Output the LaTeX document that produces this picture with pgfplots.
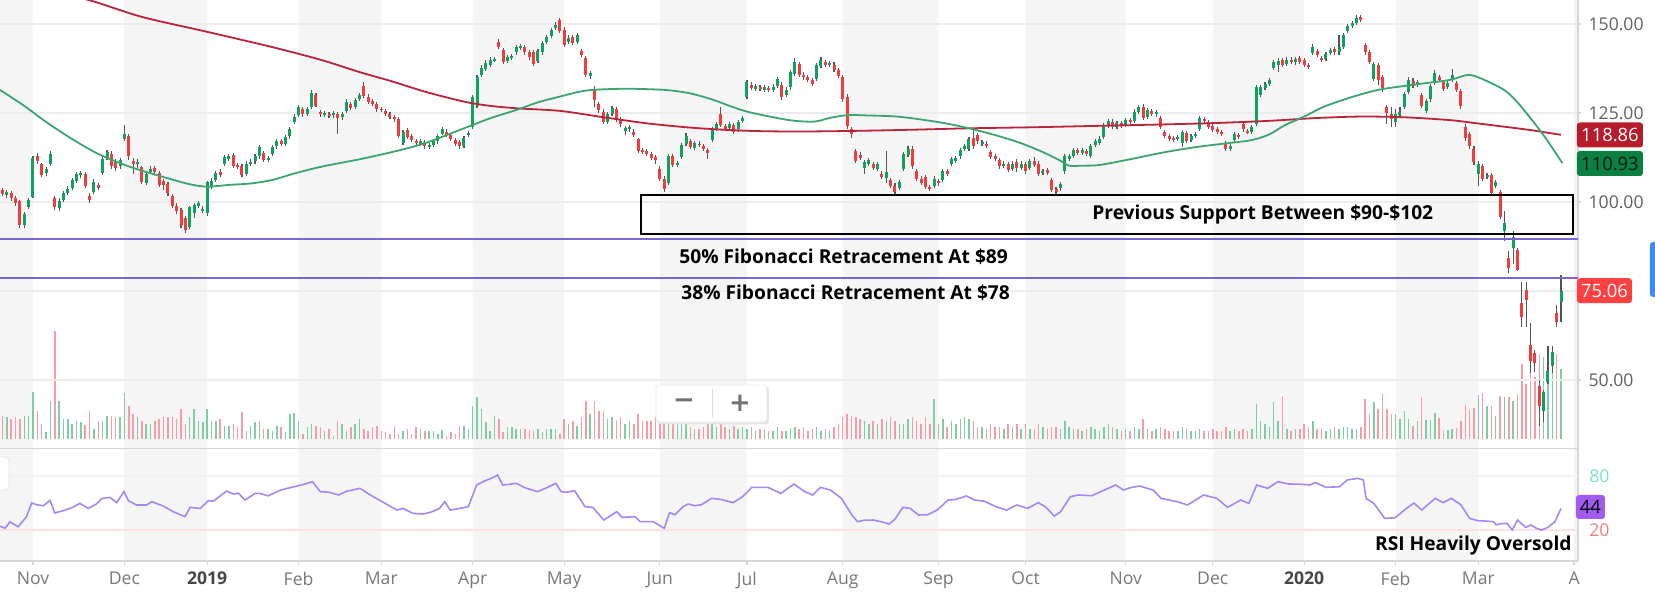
\documentclass[border=0pt]{standalone}
\usepackage{pgfplots}
\pgfplotsset{compat=1.18}
\usepackage{pgfplotstable}
\usepackage{fontspec}
\setmainfont{Open Sans}
\newfontfamily\dejavu{DejaVu Sans}
\definecolor{cgreen}{RGB}{16,160,96}
\definecolor{cred}{RGB}{240,60,60}
\definecolor{cwick}{RGB}{85,85,85}
\definecolor{vgreen}{RGB}{128,204,164}
\definecolor{vred}{RGB}{245,156,166}
\definecolor{magreen}{RGB}{60,165,110}
\definecolor{mared}{RGB}{185,35,60}
\definecolor{fib}{RGB}{122,102,218}
\definecolor{band}{RGB}{245,245,245}
\definecolor{gridc}{RGB}{236,236,236}
\definecolor{axisc}{RGB}{214,214,214}
\definecolor{rsiline}{RGB}{165,135,245}
\definecolor{tickc}{RGB}{95,95,95}
\definecolor{monthc}{RGB}{120,120,120}
\definecolor{yeardark}{RGB}{70,70,70}
\definecolor{lblA}{RGB}{183,28,44}
\definecolor{lblB}{RGB}{11,128,67}
\definecolor{lblC}{RGB}{255,64,64}
\definecolor{lblD}{RGB}{160,92,240}
\definecolor{rsiG}{RGB}{125,225,190}
\definecolor{rsiR}{RGB}{242,125,125}
\definecolor{rsigridG}{RGB}{238,244,241}
\definecolor{rsigridR}{RGB}{252,226,226}
\definecolor{bluebar}{RGB}{60,140,240}
\newcommand{\tickfont}{\fontsize{8.8bp}{10bp}\selectfont}
\newcommand{\annfont}{\fontsize{9.6bp}{11bp}\selectfont\bfseries}
\pgfplotsset{chartbase/.style={scale only axis, width=789bp, xmin=-7.58, xmax=354.9}}

\pgfplotstableread{
i o h l c v
-8 105.5 106.2 103.0 103.5 32
-7 103.5 104.0 101.6 102.2 23
-6 102.0 103.5 101.2 102.8 22
-5 102.5 103.0 100.4 101.0 20
-4 101.2 101.8 98.8 99.6 22
-3 100.2 100.6 92.8 93.6 20
-2 93.4 97.3 92.6 96.6 23
-1 98.6 101.2 98.0 100.5 23
0 101.4 113.0 101.0 112.4 47
1 113.0 113.8 110.8 111.6 28
2 110.6 111.0 107.0 107.6 15
3 108.2 109.8 107.4 109.2 7
4 110.6 114.2 110.2 113.6 38
5 101.2 101.8 97.8 98.6 108
6 98.4 101.0 97.6 100.4 38
7 100.6 103.2 100.0 102.6 20
8 102.4 104.4 102.0 103.6 20
9 104.0 106.8 103.4 106.2 15
10 106.0 108.4 105.4 107.8 18
11 107.6 108.8 106.8 108.2 17
12 108.0 108.4 104.0 104.4 14
13 101.8 102.4 99.6 100.6 28
14 102.8 106.4 102.2 105.6 10
15 104.9 105.4 103.4 103.9 18
16 108.2 112.8 107.6 112.2 18
17 112.4 114.6 111.8 114.0 23
18 113.6 114.2 109.4 110.0 23
19 111.6 112.2 108.8 109.6 22
20 110.0 112.4 109.4 111.8 22
21 117.8 121.6 117.2 119.2 46
22 118.6 119.0 111.8 112.8 33
23 111.6 112.4 108.0 110.6 25
24 110.8 112.0 109.6 111.2 22
25 109.8 110.2 105.0 105.6 18
26 105.4 108.6 104.8 108.0 15
27 108.4 110.2 107.8 109.4 15
28 109.6 110.0 107.8 108.4 18
29 108.2 108.6 104.2 104.8 20
30 106.0 106.6 103.4 104.8 22
31 105.0 105.6 101.8 102.6 22
32 101.6 102.2 98.2 98.8 22
33 99.0 99.8 96.6 97.4 20
34 97.8 98.4 92.6 93.4 30
35 95.6 96.0 91.2 92.2 15
36 93.0 99.0 92.4 98.6 22
37 96.8 99.6 95.6 99.2 30
38 99.0 100.4 98.2 99.6 18
39 97.6 98.8 96.8 98.0 17
40 96.8 106.0 96.2 105.6 30
41 104.4 106.8 103.6 106.0 18
42 106.2 108.8 105.6 108.2 18
43 108.4 109.2 107.0 107.6 20
44 110.8 113.2 110.2 112.6 13
45 112.2 113.6 111.6 112.8 13
46 113.2 113.8 109.6 110.2 15
47 110.4 111.0 109.2 109.8 12
48 110.2 110.6 107.0 107.6 27
49 108.0 111.4 107.4 110.8 8
50 110.6 112.0 110.0 111.2 13
51 111.4 113.4 110.8 112.8 17
52 112.8 116.0 112.2 115.4 18
53 113.8 114.4 111.2 111.8 10
54 111.8 113.0 111.2 112.4 10
55 113.6 116.0 113.0 115.4 8
56 115.6 117.8 115.0 117.2 13
57 117.0 117.6 115.6 116.2 12
58 116.4 118.8 115.8 118.2 7
59 118.4 121.0 117.8 120.4 25
60 122.6 124.8 122.0 124.0 26
61 124.4 127.2 123.8 126.6 18
62 126.2 126.8 124.0 124.6 5
63 124.8 126.8 124.2 126.2 12
64 126.8 131.4 126.2 130.6 15
65 130.0 130.6 126.6 127.0 13
66 125.2 125.8 124.0 124.6 12
67 124.4 125.6 123.8 125.0 8
68 124.6 125.2 123.6 124.2 10
69 124.4 125.6 123.6 125.0 3
70 124.6 125.2 119.2 123.6 18
71 123.8 125.4 123.0 124.8 15
72 125.6 128.8 125.0 128.2 8
73 127.4 128.0 125.8 126.4 12
74 126.6 129.2 126.0 128.6 15
75 129.0 130.6 128.4 130.0 20
76 132.6 133.6 129.2 129.8 10
77 129.6 130.2 127.6 128.2 8
78 128.4 129.0 127.0 127.6 12
79 127.6 128.2 125.4 126.0 13
80 126.2 126.8 125.2 125.8 8
81 125.6 126.2 124.2 124.8 7
82 124.6 125.2 123.2 124.0 5
83 123.8 124.4 122.6 123.2 13
84 123.4 123.8 118.0 118.6 5
85 116.6 120.2 116.0 119.6 8
86 120.2 120.8 117.6 118.2 10
87 118.4 119.0 116.8 117.4 5
88 117.2 117.8 116.0 116.6 12
89 116.4 117.6 115.6 117.0 10
90 116.8 117.4 115.0 115.6 8
91 115.4 116.6 114.8 116.0 8
92 116.0 117.6 115.4 117.0 8
93 117.0 119.2 116.4 118.6 5
94 119.2 121.2 118.8 120.6 9
95 119.8 120.4 118.2 118.8 3
96 118.8 119.4 117.0 117.6 7
97 117.4 118.0 115.6 116.2 5
98 116.8 117.4 115.0 115.6 13
99 115.6 118.6 115.2 118.0 13
100 118.8 120.0 118.2 119.4 10
101 121.2 130.0 120.6 129.4 33
102 127.0 135.6 126.4 135.0 42
103 135.6 138.4 135.0 137.6 30
104 137.4 139.8 136.8 139.0 17
105 138.6 140.6 137.8 139.8 8
106 139.8 140.8 139.2 140.2 23
107 145.0 145.8 143.0 143.6 20
108 142.6 143.2 138.8 139.4 7
109 139.6 141.2 139.0 140.6 12
110 140.6 141.6 140.0 141.0 12
111 142.0 144.0 141.4 143.4 10
112 143.2 144.4 142.6 143.8 10
113 143.6 144.2 141.4 142.0 10
114 142.2 142.8 140.0 140.6 9
115 142.0 142.6 138.2 138.8 8
116 139.6 143.0 139.0 142.4 10
117 142.0 145.2 141.4 144.6 7
118 145.0 147.0 144.4 146.4 10
119 146.6 149.0 146.0 148.4 10
120 148.8 150.6 148.2 149.8 10
121 151.2 151.8 147.4 148.0 5
122 148.4 149.2 143.4 144.0 20
123 145.0 146.8 144.4 146.2 15
124 146.4 147.0 144.0 144.6 18
125 145.0 147.6 144.4 147.0 13
126 142.4 143.0 140.8 141.4 22
127 140.4 141.0 135.0 135.6 38
128 135.4 136.8 134.6 136.2 25
129 131.8 132.6 126.8 128.6 38
130 127.6 128.2 125.0 125.8 28
131 125.4 126.0 121.8 122.4 28
132 122.6 125.2 122.0 124.6 20
133 124.8 127.0 124.2 126.4 22
134 126.2 126.8 122.4 123.0 18
135 123.4 124.0 121.2 121.8 22
136 120.0 121.4 118.8 120.8 15
137 120.4 121.6 119.8 121.0 18
138 119.8 120.4 118.2 118.8 15
139 117.6 118.0 113.8 114.4 25
140 114.6 115.2 113.4 114.0 18
141 114.4 115.0 113.0 113.6 18
142 113.4 114.0 111.8 112.4 18
143 112.6 113.2 110.8 111.8 22
144 109.4 110.0 106.0 106.6 27
145 106.6 107.2 102.8 103.6 25
146 105.4 113.4 104.8 112.8 30
147 112.8 113.4 109.8 110.4 18
148 110.4 111.6 109.8 111.0 15
149 112.6 116.6 112.0 116.0 20
150 116.2 119.4 115.6 118.4 18
151 117.0 117.6 114.8 115.4 12
152 115.2 117.2 114.6 116.6 10
153 116.4 117.0 115.4 116.0 10
154 115.8 116.4 114.2 114.8 12
155 114.6 115.2 112.0 113.8 15
156 117.4 121.0 116.8 120.4 15
157 120.6 122.6 120.0 122.0 12
158 124.6 126.6 121.0 121.6 18
159 121.4 122.0 120.0 120.6 12
160 120.8 122.4 120.2 121.8 10
161 121.6 122.2 119.2 119.8 13
162 120.4 123.0 119.8 122.4 10
163 122.8 124.2 122.2 123.6 12
164 129.6 134.4 129.0 133.6 10
165 133.0 133.8 131.4 132.0 12
166 131.8 133.2 131.2 132.6 8
167 132.4 133.0 131.2 131.8 10
168 131.6 132.8 131.0 132.2 10
169 132.0 132.6 131.0 131.6 8
170 131.6 133.2 131.0 132.4 8
171 132.6 135.2 132.0 134.6 12
172 133.0 133.6 128.6 129.6 8
173 130.0 132.2 129.4 131.6 8
174 132.2 137.0 131.6 136.4 10
175 136.0 140.4 135.4 139.2 12
176 138.8 139.4 135.2 135.8 10
177 135.8 136.4 134.4 135.0 12
178 135.2 135.8 133.6 134.2 8
179 134.2 134.8 132.6 133.2 10
180 134.6 139.0 134.0 138.4 12
181 138.2 140.8 137.6 139.8 8
182 139.4 140.0 138.0 138.6 10
183 138.4 139.6 137.8 139.0 8
184 138.6 139.2 136.4 137.0 12
185 137.0 137.6 134.8 135.4 15
186 135.2 135.8 128.2 128.8 22
187 129.6 130.2 120.6 121.4 25
188 120.6 121.2 118.0 119.0 23
189 114.2 114.8 111.0 111.6 22
190 113.2 114.0 111.8 112.4 20
191 109.6 111.8 108.0 111.2 18
192 110.8 112.4 110.2 111.8 15
193 110.6 111.2 109.0 109.6 18
194 109.4 111.2 108.8 110.6 15
195 108.0 108.6 106.4 107.0 20
196 106.8 114.4 105.4 108.4 18
197 106.2 106.8 104.0 104.6 22
198 104.6 105.2 102.2 102.8 18
199 104.0 106.2 103.4 105.6 15
200 109.2 114.0 108.6 113.4 15
201 113.2 115.6 112.6 115.0 20
202 115.0 115.6 109.4 110.0 22
203 108.8 109.4 106.0 106.6 18
204 106.6 107.2 104.8 105.4 15
205 107.0 107.6 103.6 104.2 22
206 104.2 104.8 103.2 103.8 15
207 104.6 107.2 104.0 106.6 40
208 106.0 106.6 104.6 105.2 15
209 106.2 109.4 105.6 108.8 20
210 108.8 109.4 107.2 107.8 12
211 110.8 112.6 110.2 112.0 18
212 111.6 113.0 111.0 112.4 15
213 112.8 115.2 112.2 114.6 20
214 114.8 116.2 114.2 115.6 22
215 114.8 118.2 114.2 117.6 20
216 118.0 120.2 115.0 115.6 18
217 118.8 119.4 116.4 117.0 12
218 116.2 117.4 115.6 116.8 12
219 116.4 117.0 115.2 115.8 10
220 114.0 114.6 112.0 112.6 15
221 112.8 113.4 111.4 112.0 12
222 111.8 112.4 109.4 110.0 12
223 110.2 111.4 109.6 110.8 10
224 110.6 111.2 108.4 109.0 15
225 109.4 111.4 108.8 110.8 12
226 111.2 112.0 108.4 109.6 15
227 109.6 111.4 109.0 110.8 10
228 110.6 111.2 108.0 108.6 15
229 109.6 112.2 109.0 111.6 10
230 111.4 112.6 109.8 110.4 10
231 110.8 111.4 107.4 108.0 15
232 108.2 109.4 107.6 108.8 12
233 109.0 109.6 107.6 108.2 10
234 106.2 106.8 102.8 103.4 12
235 103.6 104.2 102.2 102.8 12
236 103.8 105.6 103.2 105.0 10
237 108.6 113.4 108.0 112.8 18
238 112.0 113.6 111.4 113.0 12
239 113.0 115.2 112.4 114.6 10
240 114.6 115.2 113.2 113.8 10
241 113.8 115.2 113.2 114.6 8
242 114.4 115.0 113.0 113.6 10
243 113.0 116.4 112.4 115.8 12
244 116.0 117.8 115.4 117.2 10
245 116.6 118.4 116.0 117.6 8
246 118.2 122.2 117.6 121.6 12
247 121.4 123.4 120.8 122.8 15
248 122.6 123.2 120.6 121.2 12
249 121.0 122.8 120.4 122.2 10
250 122.2 122.8 120.8 121.4 8
251 121.6 123.6 121.0 123.0 10
252 123.0 123.6 122.0 122.6 8
253 122.8 126.0 122.2 125.4 12
254 125.4 127.2 124.8 126.6 10
255 126.8 127.4 123.0 123.6 20
256 123.8 126.4 123.2 125.8 10
257 125.6 126.2 124.2 124.8 8
258 124.6 125.8 124.0 125.2 10
259 123.6 124.2 120.4 121.0 12
260 119.6 120.2 118.0 118.6 10
261 118.4 119.0 117.0 117.6 8
262 118.0 118.6 116.8 117.4 8
263 117.6 118.8 117.0 118.2 8
264 116.6 120.2 115.4 119.6 12
265 119.4 120.0 116.6 117.2 10
266 117.4 119.2 116.8 118.6 8
267 118.6 119.8 118.0 119.2 8
268 120.6 124.2 120.0 123.6 10
269 123.2 123.8 122.2 122.8 8
270 122.4 123.0 120.4 121.0 8
271 121.4 122.0 119.6 120.2 10
272 120.4 121.0 119.0 119.6 8
273 119.6 120.2 118.4 119.0 8
274 116.4 117.0 114.2 114.8 12
275 115.0 116.2 114.4 115.6 8
276 117.4 119.6 116.8 119.0 10
277 118.8 119.4 117.6 118.2 8
278 121.8 122.4 119.8 120.4 10
279 120.0 120.6 119.0 119.6 8
280 119.8 121.6 119.2 121.0 10
281 122.0 132.8 121.4 132.2 35
282 130.0 133.0 129.4 132.4 18
283 132.0 133.8 131.4 133.2 15
284 133.2 134.8 132.6 134.2 12
285 137.6 139.8 137.0 139.2 37
286 138.6 140.4 136.4 139.6 18
287 139.8 140.4 137.8 138.4 43
288 138.8 140.6 138.2 140.0 10
289 140.0 140.6 138.8 139.4 8
290 139.2 140.8 138.6 140.2 10
291 140.4 141.0 138.8 139.4 10
292 139.8 140.4 138.0 138.6 15
293 138.4 139.0 137.4 138.0 12
294 141.8 144.4 141.2 143.4 18
295 142.4 143.0 140.6 141.2 10
296 140.4 141.0 139.2 139.8 10
297 140.2 142.2 139.6 141.6 8
298 141.8 143.2 141.2 142.6 10
299 143.0 143.6 141.4 142.0 12
300 142.0 146.8 141.4 143.6 10
301 143.6 147.6 143.0 147.0 12
302 148.0 150.0 147.4 149.4 12
303 149.4 150.8 148.8 150.2 10
304 150.4 152.4 149.8 151.6 10
305 152.0 152.6 150.6 151.2 12
306 144.2 144.8 141.4 142.0 40
307 142.2 142.8 138.8 139.4 25
308 134.6 139.4 134.0 138.8 37
309 138.4 139.0 133.0 134.2 30
310 135.2 135.8 130.8 132.0 45
311 126.6 127.2 121.8 125.0 30
312 124.8 126.6 121.2 123.4 25
313 122.4 126.0 121.0 124.6 25
314 124.4 126.8 123.6 125.2 20
315 126.8 131.0 126.2 130.4 28
316 131.0 135.2 130.4 134.4 20
317 134.0 134.8 132.0 132.6 13
318 132.8 134.4 132.2 133.8 18
319 130.0 130.6 126.4 127.0 42
320 125.6 129.0 125.0 128.4 19
321 128.8 133.2 128.2 132.6 19
322 133.4 137.0 132.8 136.2 26
323 135.2 135.8 133.6 134.2 21
324 133.6 134.2 131.2 131.8 8
325 132.4 134.0 131.8 133.4 9
326 134.2 137.4 133.6 135.6 10
327 133.4 134.0 131.0 131.6 11
328 131.2 131.8 126.2 127.0 18
329 121.2 121.8 117.2 118.0 34
330 119.0 119.6 115.0 115.6 29
331 115.0 115.6 110.4 111.2 31
332 108.0 111.6 104.6 110.6 44
333 110.2 110.8 105.8 106.6 46
334 107.2 108.2 106.6 107.6 33
335 107.6 108.2 101.8 102.4 33
336 104.4 106.2 103.8 105.6 23
337 102.8 103.4 95.2 95.8 43
338 91.8 97.6 89.0 94.0 42
339 84.4 86.2 80.0 81.4 42
340 87.2 91.8 82.6 90.2 38
341 86.6 87.0 80.6 81.0 45
342 71.6 77.6 65.0 67.8 75
343 75.4 77.6 64.8 72.6 55
344 59.8 66.0 52.0 55.2 87
345 57.6 58.4 52.2 54.8 62
346 48.2 50.0 37.0 42.6 85
347 41.2 47.2 38.2 46.6 82
348 49.4 59.6 48.8 52.4 93
349 53.8 59.6 52.0 58.0 88
350 68.8 71.0 64.8 66.4 85
351 72.0 79.6 66.2 75.06 70
}\ohlc

\begin{document}
\begin{tikzpicture}
% month bands
\begin{axis}[chartbase, at={(0,0)}, anchor=north west, height=280.5bp, ymin=0, ymax=1, hide axis]
\addplot[ybar interval, fill=band, draw=none] coordinates {(-7.58,1) (0,0) (21,1) (40,0) (61,1) (80,0) (101,1) (122,0) (144,1) (164,0) (186,1) (208,0) (228,1) (251,0) (271,1) (292,0) (313,1) (332,0) (354,1) (354.9,1)};
\end{axis}
% volume
\begin{axis}[chartbase, at={(0,0)}, anchor=north west, height=224bp, ymin=-9, ymax=439, hide axis]
\addplot[ycomb, mark=none, draw=vgreen, line width=0.75bp, restrict expr to domain={\thisrow{c}-\thisrow{o}}{0:1000}] table[x=i, y=v] {\ohlc};
\addplot[ycomb, mark=none, draw=vred, line width=0.75bp, restrict expr to domain={\thisrow{c}-\thisrow{o}}{-1000:-0.0001}] table[x=i, y=v] {\ohlc};
\end{axis}
% price
\begin{axis}[chartbase, at={(0,0)}, anchor=north west, height=224bp, ymin=30.9, ymax=156.74,
  axis x line=none, axis y line*=right, axis line style={draw=axisc, line width=0.6bp},
  xtick=\empty, ytick={50,75,100,125,150}, yticklabels={50.00,{},100.00,125.00,150.00},
  ymajorgrids, grid style={draw=gridc, line width=0.8bp},
  tick style={draw=axisc, line width=0.6bp}, major tick length=1.6bp, tick align=outside,
  yticklabel style={font=\tickfont, text=tickc, inner sep=0pt, anchor=west, xshift=3.5bp}]
\addplot[forget plot, draw=none, mark=none, error bars/.cd, y dir=both, y explicit, error mark=none, error bar style={draw=cwick, line width=0.55bp}]
  table[x=i, y expr={(\thisrow{h}+\thisrow{l})/2}, y error expr={(\thisrow{h}-\thisrow{l})/2}] {\ohlc};
\addplot[forget plot, draw=none, mark=none, restrict expr to domain={\thisrow{c}-\thisrow{o}}{0:1000}, error bars/.cd, y dir=both, y explicit, error mark=none, error bar style={draw=cgreen, line width=1.5bp}]
  table[x=i, y expr={(\thisrow{o}+\thisrow{c})/2}, y error expr={abs(\thisrow{c}-\thisrow{o})/2}] {\ohlc};
\addplot[forget plot, draw=none, mark=none, restrict expr to domain={\thisrow{c}-\thisrow{o}}{-1000:-0.0001}, error bars/.cd, y dir=both, y explicit, error mark=none, error bar style={draw=cred, line width=1.5bp}]
  table[x=i, y expr={(\thisrow{o}+\thisrow{c})/2}, y error expr={abs(\thisrow{c}-\thisrow{o})/2}] {\ohlc};
% 200-day moving average
\addplot[mared, line width=0.9bp, smooth, mark=none] coordinates {(-7.6,163) (0,160.5) (12.9,156.7) (25,152) (40,147.8) (55,143.5) (66.2,139.9) (75,136.5) (82.7,133.8) (90,131) (99,128.2) (105,127) (111.4,126.3) (121,125.6) (130,124) (141,122.1) (152,120.8) (164,120) (176,119.8) (190,120) (202,120.3) (215,120.7) (230,121) (245,121.4) (260,121.8) (272,122.2) (284,122.8) (295,123.6) (305,124) (315,123.8) (325.5,123) (331,122.2) (337,121.3) (344,120.2) (351,118.86)};
% 50-day moving average
\addplot[magreen, line width=0.9bp, smooth, mark=none] coordinates {(-7.6,131.5) (-2,127) (3,122.5) (8.7,117.9) (15,113.5) (22,110) (30,107) (36,105) (40,104.3) (45,104.8) (50,105.2) (55,106.2) (60,108) (66.2,109.9) (75,112) (82.7,114.1) (90,116.5) (99,120.7) (105,123.5) (111.4,126) (116,128) (121,129.6) (127,131.3) (135,131.8) (141,131.7) (146,131.4) (151,130.5) (156,128.8) (160,127) (164,125.4) (170,123.8) (175,122.8) (179.6,122.6) (183,123.6) (187,124.4) (192,124.3) (198.5,124) (205,123) (210,122) (215,120.7) (221,118.8) (227,116.5) (232,114) (236,111.6) (238,110.2) (241,110.2) (245,110.4) (252,112) (260,114) (267.6,115.5) (275,116.6) (280,117.4) (284,119) (287.6,121.6) (292,124) (296.6,126.8) (303,129.5) (309,131.5) (315,132.6) (320,133.4) (325.5,134.3) (329.7,135.7) (333,134.5) (337.9,131.5) (341,128) (345.5,121.2) (348,117) (351.3,110.93)};
% Fibonacci levels
\addplot[fib, line width=1bp, mark=none] coordinates {(-7.58,89.52) (354.9,89.52)};
\addplot[fib, line width=1bp, mark=none] coordinates {(-7.58,78.65) (354.9,78.65)};
% support zone
\draw[black, line width=1.2bp] (axis cs:139.7,90.93) rectangle (axis cs:353.8,101.97);
\end{axis}
% RSI
\begin{axis}[chartbase, at={(0,-224bp)}, anchor=north west, height=56.5bp, ymin=-14.4, ymax=111.1,
  axis x line*=bottom, axis y line*=right, axis line style={draw=axisc, line width=0.6bp},
  xtick={0,21,40,61,80,101,122,144,164,186,208,228,251,271,292,313,332,354},
  xticklabels={Nov,Dec,{\textcolor{yeardark}{\bfseries 2019}},Feb,Mar,Apr,May,Jun,Jul,Aug,Sep,Oct,Nov,Dec,{\textcolor{yeardark}{\bfseries 2020}},Feb,Mar,A},
  xticklabel style={font=\tickfont, text=monthc},
  ytick={20,80}, yticklabels={\textcolor{rsiR}{20},\textcolor{rsiG}{80}},
  yticklabel style={font=\tickfont, inner sep=0pt, anchor=west, xshift=3.5bp},
  tick style={draw=axisc, line width=0.6bp}, major tick length=2bp, tick align=outside,
  ytick style={draw=none}]
\draw[rsigridG, line width=0.8bp] (axis cs:-7.58,80) -- (axis cs:354.9,80);
\draw[rsigridR, line width=0.8bp] (axis cs:-7.58,20) -- (axis cs:354.9,20);
\draw[axisc, line width=0.6bp] (rel axis cs:0,1) -- (rel axis cs:1,1);
\addplot[rsiline, line width=0.8bp, mark=none] coordinates {(-8,25) (-6.4,22) (-5.3,29) (-3.4,23.7) (-1.5,34.8) (-0.3,50) (0.9,48) (2.4,47) (3.9,53) (5,39) (7,41.5) (9,45) (10.8,49.6) (12.7,44) (14.6,49) (15.8,55) (17.7,56.3) (19.2,50.4) (20.9,62.6) (21.9,52.6) (23.8,47.8) (26.1,47.8) (27.3,51.5) (29.9,46.7) (32.2,40.4) (34.9,34.8) (36.1,45.2) (38.4,44) (40.3,52.6) (41.4,52) (44.5,63.3) (46,60) (47.2,61) (48.7,53.3) (51,60.7) (52,60.7) (54,58) (56.9,64.4) (59,67) (61.7,70) (64.2,73.7) (66,62.6) (68,62) (70.2,58.9) (72,63) (75.1,66.3) (77.5,58.9) (80,52) (83.6,42.2) (85,44) (87.3,38.5) (89.7,37.8) (91.5,40) (93.4,44.1) (94.6,51.5) (95.8,42.2) (98,44) (100,45.9) (101.9,70) (104,75) (106.1,79.3) (106.7,81.1) (107.9,70) (109,70.5) (111,71.9) (113,67) (115.9,62.6) (118,67) (120.1,71.9) (121.3,62.6) (122.5,62) (124.4,63.7) (126.8,45.9) (128.6,45.2) (131.1,31.1) (134.1,40.4) (135.3,34.1) (138.3,34.8) (139.5,29.3) (142.5,29.3) (145,21.9) (146.2,39.3) (147.5,37) (149.3,45.9) (150.5,48.9) (152,47) (153.5,48) (155.9,55.2) (158,54) (160.8,50.4) (163,57) (165.1,67.4) (168.8,67.4) (171.8,60.7) (174.8,71.1) (177.3,62.6) (179.1,58.9) (180.9,67.4) (183.2,64.4) (185.7,55.2) (188.1,36.7) (189.4,29.3) (191,31) (193,31.1) (195,29) (196.7,26.7) (198,32) (199.8,45.2) (201.5,44) (203.4,36.7) (205.5,37) (207.7,42.2) (210.2,53.3) (212,54) (214.4,57.8) (216.3,53.3) (218.5,52) (221.2,45.9) (223.6,42.2) (226,47.8) (228.5,44.1) (230.9,50.4) (232.5,46) (234.6,35.6) (236,40) (238.3,57) (240.1,58.9) (243.2,58.1) (245.6,63.3) (248.7,70) (250.5,64.4) (252,67) (254.2,68.9) (257.3,64.4) (259.1,55.2) (262.8,51.5) (265.2,47.8) (268.9,58.9) (271.9,55.2) (274.4,45.2) (277.4,53.3) (279.3,49.6) (281.1,70) (283.6,66.3) (286,73.7) (288.4,71.1) (291,71) (293.3,70) (294.6,72.6) (297,67.4) (300.1,68.1) (301.9,75.6) (304.3,77.4) (305.6,75.6) (306.2,55.2) (308,49.6) (310.5,32.9) (312.9,33.7) (315.4,43.7) (317.2,50) (319,42.2) (322.1,55.2) (323.9,50.4) (325.8,55.2) (328,48) (330,32.9) (331.9,30.4) (333.5,30) (335.5,29.3) (336.1,25.6) (337,27) (338.6,27.4) (339.8,20) (341,31.1) (342.9,22.9) (344.1,25.6) (345.3,22) (346.5,20) (348,23) (349.6,29.3) (351,44)};
\end{axis}
% annotations in pixel units
\begin{scope}[x={(0.5bp,0)}, y={(0,-0.5bp)}]
\node[anchor=west, inner sep=0pt, font=\annfont] at (1092,215) {Previous Support Between \$90-\$102};
\node[anchor=west, inner sep=0pt, font=\annfont] at (679,257) {50\% Fibonacci Retracement At \$89};
\node[anchor=west, inner sep=0pt, font=\annfont] at (681,293) {38\% Fibonacci Retracement At \$78};
\node[anchor=east, inner sep=0pt, font=\annfont] at (1572,546) {RSI Heavily Oversold};
% zoom buttons
\fill[black!10, rounded corners=1.5bp] (657,387) rectangle (769,424.5);
\filldraw[fill=white, draw=black!8, rounded corners=1.5bp] (656,385) rectangle (767,422);
\draw[black!12] (712,389) -- (712,418);
\node[text=black!55, font=\dejavu\bfseries\fontsize{13bp}{14bp}\selectfont] at (684,403.5) {−};
\node[text=black!55, font=\dejavu\bfseries\fontsize{13bp}{14bp}\selectfont] at (740,403.5) {+};
% value labels
\node[fill=lblA, text=white, rounded corners=1.5bp, minimum width=33bp, minimum height=12.5bp, inner sep=0pt, font=\fontsize{9.2bp}{10bp}\selectfont] at (1610,135) {118.86};
\node[fill=lblB, text=black!90, rounded corners=1.5bp, minimum width=33bp, minimum height=12.5bp, inner sep=0pt, font=\fontsize{9.2bp}{10bp}\selectfont] at (1610,163.5) {110.93};
\node[fill=lblC, text=white, rounded corners=1.5bp, minimum width=27.5bp, minimum height=12.5bp, inner sep=0pt, font=\fontsize{9.2bp}{10bp}\selectfont] at (1604.5,290.7) {75.06};
\node[fill=lblD, text=black, rounded corners=1.5bp, minimum width=14.5bp, minimum height=12bp, inner sep=0pt, font=\fontsize{9.2bp}{10bp}\selectfont] at (1590.5,507) {44};
% cut-off interface elements
\fill[bluebar, rounded corners=1.5bp] (1650,242) rectangle (1664,297);
\filldraw[fill=white, draw=black!10, rounded corners=2bp] (-12,457) rectangle (9,490);
\end{scope}
\pgfresetboundingbox
\path[use as bounding box] (0,0) rectangle (827.5bp,-300bp);
\end{tikzpicture}
\end{document}
